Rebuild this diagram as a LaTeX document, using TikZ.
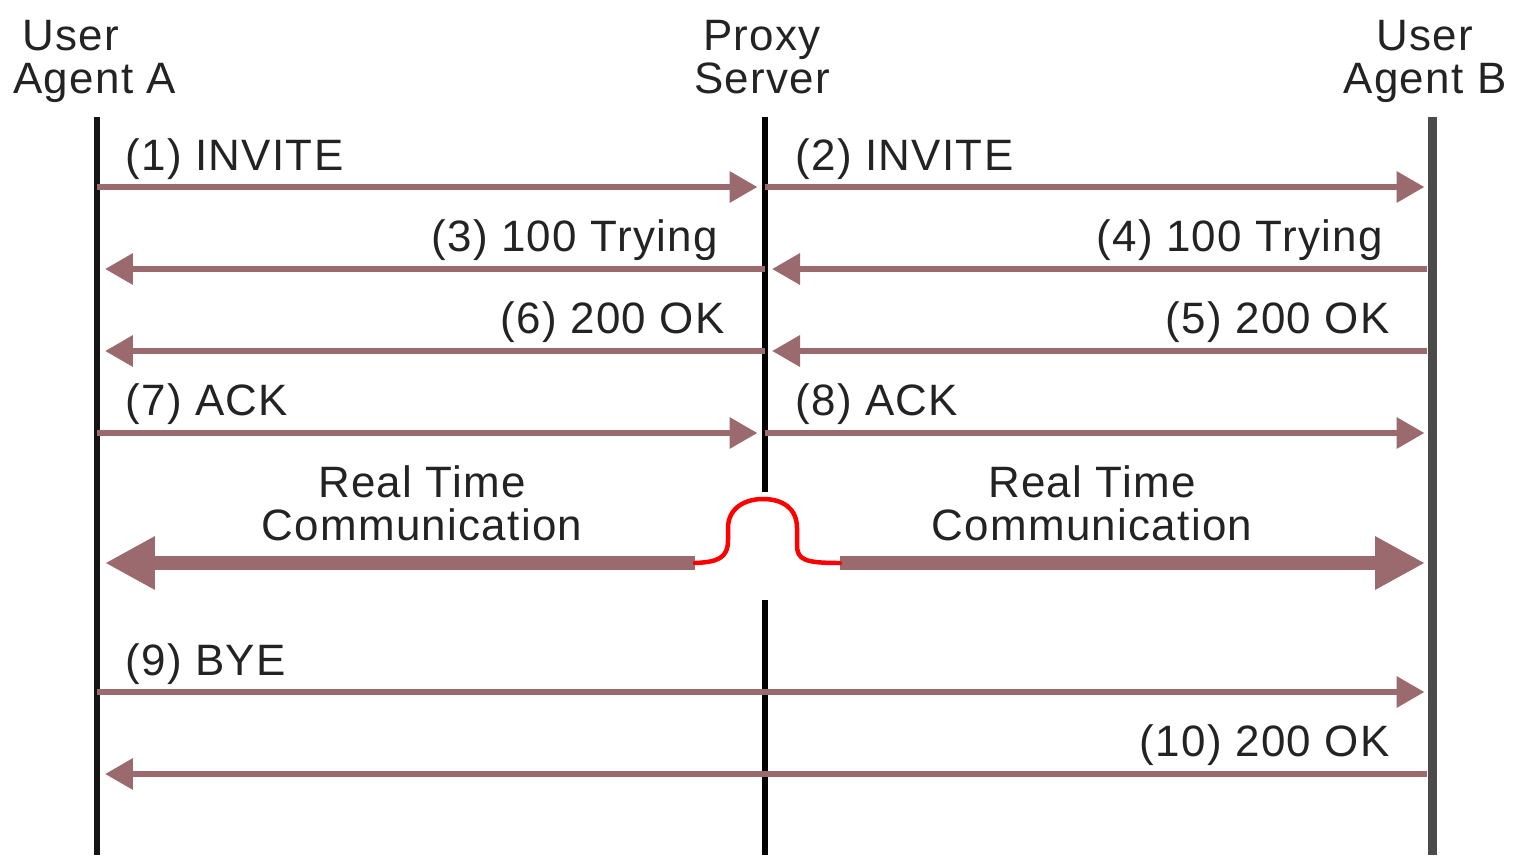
\documentclass[tikz,border=0pt]{standalone}
\usepackage{fontspec}
\setmainfont{Liberation Sans}[LetterSpace=3]
\usetikzlibrary{arrows.meta}
\definecolor{msg}{RGB}{155,106,111}
\definecolor{lifeA}{RGB}{20,20,20}
\definecolor{lifeB}{RGB}{75,75,75}
\definecolor{txt}{RGB}{35,35,35}
\tikzset{
  lbl/.style={inner sep=0pt, text=txt, font=\fontsize{25}{24.4}\selectfont},
  head/.style={lbl, align=center, anchor=north},
  life/.style={line width=3.4pt},
  msgline/.style={draw=msg, line width=3.7pt, -{Triangle[length=0.56cm,width=0.6cm]}},
  bigline/.style={draw=msg, line width=8.5pt, {Triangle[length=1cm,width=1cm]}-},
  bigline2/.style={draw=msg, line width=8.5pt, -{Triangle[length=1cm,width=1cm]}},
  bump/.style={draw=red, line width=2.55pt, line cap=round}
}
\begin{document}
\begin{tikzpicture}[x=0.02cm,y=-0.02cm]
\useasboundingbox (0,0) rectangle (1513,855);
\fill[white] (0,0) rectangle (1513,855);

% headers
\node[lbl, align=left, anchor=north west] (ua) at (13,20) {\hspace*{0.18cm}User\\Agent A};
\node[head] (ps) at (762,20) {Proxy\\Server};
\node[head] (ub) at (1425,20) {User\\Agent B};

% lifelines
\coordinate (At) at (97,117);  \coordinate (Ab) at (97,855);
\coordinate (Pt) at (765,117); \coordinate (Pm1) at (765,492);
\coordinate (Pm2) at (765,600); \coordinate (Pb) at (765,855);
\coordinate (Bt) at (1432,117); \coordinate (Bb) at (1432,855);
\draw[life, draw=lifeA] (At) -- (Ab);
\draw[life, draw=black] (Pt) -- (Pm1);
\draw[life, draw=black] (Pm2) -- (Pb);
\draw[life, draw=lifeB, line width=5.1pt] (Bt) -- (Bb);

% row coordinates
\foreach \n/\y in {1/187,2/269,3/351,4/433,5/563,6/692,7/774}{
  \coordinate (a\n) at (97,\y);
  \coordinate (p\n) at (765,\y);
  \coordinate (b\n) at (1432,\y);
}

% messages
\draw[msgline, shorten >=0.15cm] (a1) -- (p1);
\draw[msgline, shorten >=0.15cm] (p1) -- (b1);
\draw[msgline, shorten >=0.16cm] (p2) -- (a2);
\draw[msgline, shorten >=0.14cm, shorten <=0.1cm] (b2) -- (p2);
\draw[msgline, shorten >=0.16cm] (p3) -- (a3);
\draw[msgline, shorten >=0.14cm, shorten <=0.1cm] (b3) -- (p3);
\draw[msgline, shorten >=0.15cm] (a4) -- (p4);
\draw[msgline, shorten >=0.15cm] (p4) -- (b4);
\draw[msgline, shorten >=0.15cm] (a6) -- (b6);
\draw[msgline, shorten >=0.16cm, shorten <=0.1cm] (b7) -- (a7);

\node[lbl, anchor=base west] (m1) at (125,170) {(1) INVITE};
\node[lbl, anchor=base west] (m2) at (795,170) {(2) INVITE};
\node[lbl, anchor=base east] (m3) at (718,251) {(3) 100 Trying};
\node[lbl, anchor=base east] (m4) at (1383,251) {(4) 100 Trying};
\node[lbl, anchor=base east] (m6) at (725,333) {(6) 200 OK};
\node[lbl, anchor=base east] (m5) at (1390,333) {(5) 200 OK};
\node[lbl, anchor=base west] (m7) at (125,415) {(7) ACK};
\node[lbl, anchor=base west] (m8) at (795,415) {(8) ACK};
\node[lbl, anchor=base west] (m9) at (125,675) {(9) BYE};
\node[lbl, anchor=base east] (m10) at (1390,756) {(10) 200 OK};

% real time communication
\node[head] (rt1) at (422,465) {Real Time\\Communication};
\node[head] (rt2) at (1092,465) {Real Time\\Communication};
\coordinate (L1) at (695,563);
\coordinate (R1) at (840,563);
\draw[bigline, shorten <=0.16cm] (a5) -- (L1);
\draw[bigline2, shorten >=0.14cm] (R1) -- (b5);
\draw[bump] (L1) .. controls (718,562) and (728,558) .. (728,540)
  -- (728,528) .. controls (728,508) and (745,499) .. (763,499)
  .. controls (782,499) and (797,508) .. (797,528)
  -- (797,545) .. controls (797,560) and (805,563) .. (R1);
\end{tikzpicture}
\end{document}
